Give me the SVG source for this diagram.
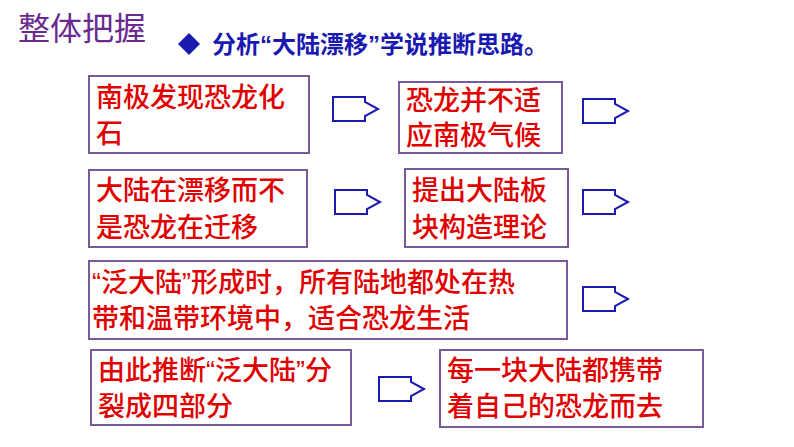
<svg xmlns="http://www.w3.org/2000/svg" width="794" height="447" viewBox="0 0 794 447">
<style>
.box{fill:#fff;stroke:#7a5a9a;stroke-width:2}
.t{font-family:"Liberation Sans","Noto Sans CJK SC",sans-serif;font-size:27px;fill:#e00000;font-weight:500}
.ar{fill:#fff;stroke:#1a1ab0;stroke-width:2}
</style>
<defs><path id="arr" class="ar" d="M0,0 H32 V5 L45,12 L32,19 V24 H0 Z"/></defs>
<rect width="794" height="447" fill="#fff"/>
<g id="title"><text x="18" y="40" style="font-family:'Noto Sans CJK SC',sans-serif;font-size:32px;fill:#6a2a90">整体把握</text></g>
<g id="subtitle"><path d="M189,33 L200,44 L189,55 L178,44 Z" fill="#1a1ab0"/>
<text x="212" y="53" style="font-family:'Liberation Sans','Noto Sans CJK SC',sans-serif;font-size:24px;font-weight:bold;fill:#1a1ab0">分析“大陆漂移”学说推断思路。</text></g>
<g id="n1"><rect class="box" x="89" y="76" width="220" height="77"/><text class="t" x="96" y="107">南极发现恐龙化</text><text class="t" x="96" y="143">石</text></g>
<g id="n2"><rect class="box" x="399" y="82" width="163" height="71"/><text class="t" x="406" y="110">恐龙并不适</text><text class="t" x="406" y="145">应南极气候</text></g>
<g id="n3"><rect class="box" x="89" y="170" width="218" height="77"/><text class="t" x="96" y="200">大陆在漂移而不</text><text class="t" x="96" y="237">是恐龙在迁移</text></g>
<g id="n4"><rect class="box" x="405" y="169" width="163" height="78"/><text class="t" x="412" y="200">提出大陆板</text><text class="t" x="412" y="237">块构造理论</text></g>
<g id="n5"><rect class="box" x="89" y="261" width="478" height="78"/><text class="t" x="92" y="292">“泛大陆”形成时，所有陆地都处在热</text><text class="t" x="92" y="328">带和温带环境中，适合恐龙生活</text></g>
<g id="n6"><rect class="box" x="91" y="350" width="260" height="75"/><text class="t" x="98" y="380">由此推断“泛大陆”分</text><text class="t" x="98" y="416">裂成四部分</text></g>
<g id="n7"><rect class="box" x="440" y="350" width="263" height="77"/><text class="t" x="447" y="380">每一块大陆都携带</text><text class="t" x="447" y="416">着自己的恐龙而去</text></g>
<g id="connectors">
<use href="#arr" x="333" y="97"/>
<use href="#arr" x="583" y="99"/>
<use href="#arr" x="335" y="190"/>
<use href="#arr" x="583" y="190"/>
<use href="#arr" x="583" y="287"/>
<use href="#arr" x="379" y="377"/>
</g>
</svg>
